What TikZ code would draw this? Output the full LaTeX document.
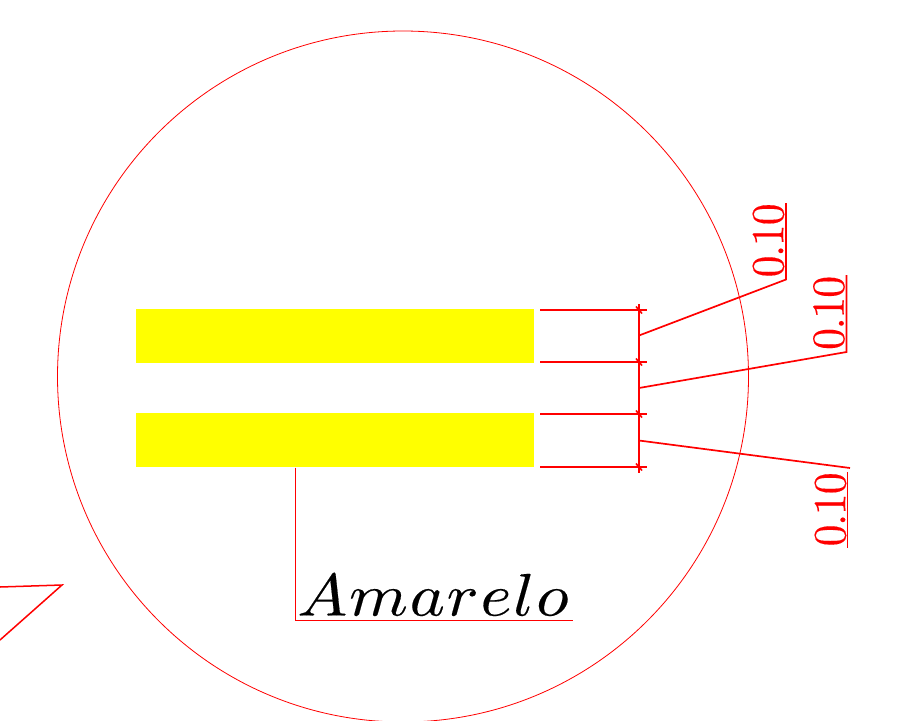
\documentclass[tikz,border=0pt]{standalone}
\usepackage{graphicx}
\definecolor{pureyellow}{RGB}{255,255,0}
\definecolor{purered}{RGB}{255,0,0}
\tikzset{
  thinred/.style={draw=purered,line width=0.8pt},
  dimred/.style={draw=purered,line width=1.9pt},
  leadred/.style={draw=purered,line width=1.7pt},
  band/.style={fill=pureyellow,draw=none,inner sep=0pt,minimum width=397.5pt,minimum height=54pt},
  dimlabel/.style={text=purered,rotate=90,inner sep=0pt},
}
\newcommand{\heavytext}[1]{\special{pdf:code 2 Tr 0.025 w}#1\special{pdf:code 0 Tr}}
\newcommand{\dimtxt}{\scalebox{4.35}[4.6]{\heavytext{0\kern-.3pt.\kern-.3pt1\kern-.2pt0}}}
\begin{document}
\begin{tikzpicture}[x=1pt,y=-1pt]
\useasboundingbox (0,0) rectangle (898,721);
\begin{scope}
\clip (0,0) rectangle (898,721);
\node[circle,thinred,minimum size=691pt,inner sep=0pt] (ring) at (403,376.5) {};
\end{scope}
\node[band] (b1) at (334.75,336) {};
\node[band] (b2) at (334.75,440.3) {};
% dimension lines
\coordinate (e1) at (540,310); \coordinate (f1) at (647,310);
\coordinate (e2) at (540,362); \coordinate (f2) at (647,362);
\coordinate (e3) at (540,414); \coordinate (f3) at (647,414);
\coordinate (e4) at (540,467); \coordinate (f4) at (647,467);
\draw[dimred] (e1) -- (f1);
\draw[dimred] (e2) -- (f2);
\draw[dimred] (e3) -- (f3);
\draw[dimred] (e4) -- (f4);
\coordinate (vt) at (639,304); \coordinate (vb) at (639,473);
\draw[dimred] (vt) -- (vb);
\foreach \y in {310,362,414,467}{
  \draw[purered,line width=1.6pt] (636,\y-3.5) -- (642,\y+3.5);
}
% leaders
\coordinate (p1) at (639,335.5); \coordinate (k1) at (786,279.5); \coordinate (u1) at (786,203);
\coordinate (p2) at (639,388); \coordinate (k2) at (846.5,352); \coordinate (u2) at (846.5,275);
\coordinate (p3) at (639,440.5); \coordinate (k3) at (850,468); \coordinate (u3a) at (847.5,472); \coordinate (u3b) at (847.5,548);
\draw[leadred] (p1) -- (k1) -- (u1);
\draw[leadred] (p2) -- (k2) -- (u2);
\draw[leadred] (p3) -- (k3);
\draw[leadred] (u3a) -- (u3b);
\node[dimlabel,anchor=south west] (t1) at (784.5,277.5) {\dimtxt};
\node[dimlabel,anchor=south west] (t2) at (845,350) {\dimtxt};
\node[dimlabel,anchor=south west] (t3) at (846.5,546.5) {\dimtxt};
% amarelo
\coordinate (a0) at (295,467.5); \coordinate (a1) at (295,620.3); \coordinate (a2) at (572.5,620.3);
\draw[thinred] (a0) -- (a1) -- (a2);
\node[anchor=base west,inner sep=0pt] (am) at (297,615.5) {\scalebox{6.7}[6]{\heavytext{$A\kern.25pt m\kern.25pt a\kern.25pt r\kern.25pt e\kern.25pt l\kern.25pt o$}}};
% partial shape
\coordinate (c1) at (0,587); \coordinate (c2) at (62,585); \coordinate (c3) at (0,640);
\draw[draw=purered,line width=1.5pt,line join=miter] (c1) -- (c2) -- (c3);
\end{tikzpicture}
\end{document}
